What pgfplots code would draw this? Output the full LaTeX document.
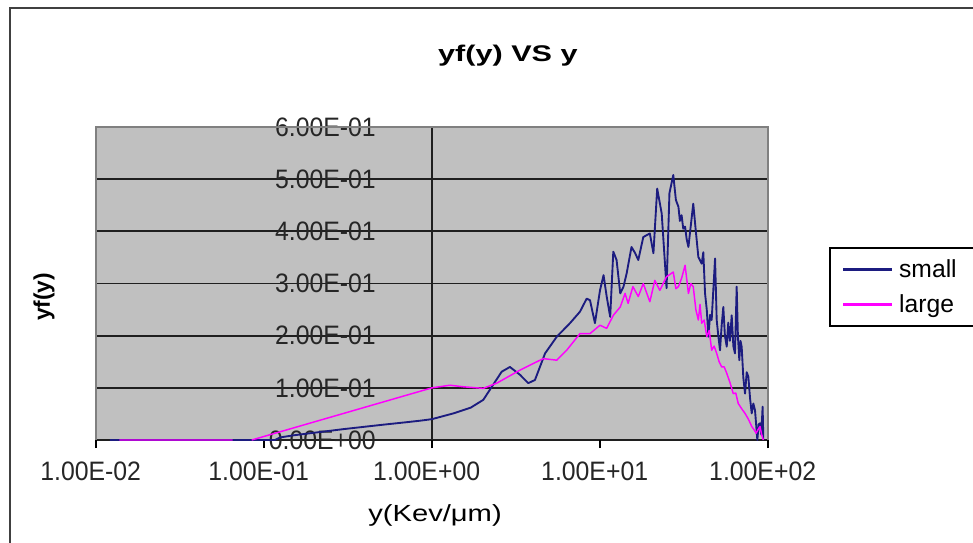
\documentclass[border=0pt]{standalone}
\usepackage{fontspec}
\setmainfont{Liberation Sans}
\newfontfamily\tickfont[FakeStretch=0.93]{Liberation Sans}
\newfontfamily\titlefont[FakeStretch=1.35]{Liberation Sans}
\newfontfamily\xlabfont[FakeStretch=1.25]{Liberation Sans}
\usepackage{pgfplots}
\pgfplotsset{compat=1.18}
\definecolor{plotgray}{HTML}{C0C0C0}
\definecolor{boxgray}{HTML}{808080}
\definecolor{navyline}{HTML}{1C1C80}
\definecolor{magline}{HTML}{FF00FF}
\begin{document}
\begin{tikzpicture}
\useasboundingbox (-72pt,-76.5pt) rectangle (657.75pt,330pt);
\draw[line width=1.5pt, black!75] (-64.5pt,-90pt) -- (-64.5pt,324pt) -- (700pt,324pt);
\begin{axis}[
  at={(0pt,0pt)}, anchor=south west,
  scale only axis, width=504pt, height=234.75pt,
  xmode=log, log basis x=10,
  xmin=0.01, xmax=100, ymin=0, ymax=0.6,
  unbounded coords=jump,
  xtick={0.01,0.1,1,10,100},
  xticklabels={1.00E-02,1.00E-01,1.00E+00,1.00E+01,1.00E+02},
  ytick={0,0.1,0.2,0.3,0.4,0.5,0.6},
  yticklabels={0.00E+00,1.00E-01,2.00E-01,3.00E-01,4.00E-01,5.00E-01,6.00E-01},
  xminorticks=false, yminorticks=false,
  xtick pos=bottom, ytick pos=left,
  tick align=outside,
  major tick length=6pt,
  xtick style={black, line width=1.2pt},
  ytick style={draw=none},
  ymajorgrids,
  major grid style={black!88, line width=1.3pt},
  extra x ticks={1}, extra x tick labels={},
  extra x tick style={grid=major, major grid style={black!88, line width=1.3pt}},
  axis background/.style={fill=plotgray},
  axis line style={draw=none},
  ticklabel style={font=\tickfont\fontsize{20}{24}\selectfont, text=black!85},
  xticklabel style={inner sep=0pt, anchor=north, xshift=-4pt, yshift=-10pt},
  yticklabel style={inner sep=0pt, anchor=east, xshift=216pt},
  title={yf(y) VS y},
  title style={font=\titlefont\bfseries\fontsize{17}{20}\selectfont, at={(axis description cs:0.613,1.204)}, anchor=center},
  ylabel={yf(y)},
  ylabel style={font=\bfseries\fontsize{17}{20}\selectfont, at={(axis description cs:-0.0774,0.457)}, anchor=center, rotate=0},
  xlabel={y(Kev/μm)},
  xlabel style={font=\xlabfont\fontsize{17.5}{20}\selectfont, at={(axis description cs:0.5045,-0.24)}, anchor=center},
  legend style={at={(rel axis cs:1.0908,0.6166)}, anchor=north west, draw=black, line width=1.2pt, fill=white,
    font=\fontsize{18.5}{22}\selectfont, inner xsep=9pt, inner ysep=7pt, row sep=7pt, cells={anchor=west},
    nodes={inner xsep=4pt}},
  legend image code/.code={\draw[#1, line width=2pt] (0pt,0pt) -- (37pt,0pt);},
  after end axis/.code={
    \draw[boxgray, line width=1.5pt] (rel axis cs:0,0) -- (rel axis cs:0,1) -- (rel axis cs:1,1) -- (rel axis cs:1,0);
  },
]
\addplot[navyline, line width=1.4pt, line join=round] coordinates {
(0.0121,0) (0.074,0) (0.116,0) (0.125,0.005) (0.15,0.009) (0.2,0.014) (0.3,0.021) (0.5,0.029) (0.7,0.034) (0.85,0.037) (1,0.040) (1.34,0.051) (1.7,0.062) (2.02,0.077) (2.27,0.102) (2.60,0.131) (2.91,0.140) (3.34,0.125) (3.74,0.109) (4.10,0.115) (4.71,0.166) (5.53,0.198) (6.63,0.224) (7.60,0.246) (8.33,0.271) (8.72,0.268) (9.33,0.224) (10,0.287) (10.5,0.316) (10.96,0.275) (11.5,0.236) (12.0,0.361) (12.55,0.345) (13.2,0.281) (13.8,0.294) (14.4,0.319) (15.4,0.370) (16.2,0.358) (16.9,0.345) (18.1,0.389) (19.8,0.396) (20.8,0.358) (21.9,0.482) (23.3,0.434) (24.9,0.291) (25.9,0.473) (27.3,0.508) (28.3,0.46) (29.3,0.447) (29.9,0.42) (30.6,0.431) (31.3,0.405) (32.1,0.409) (32.8,0.385) (33.6,0.370) (34.3,0.396) (35.9,0.453) (37.2,0.40) (38.5,0.351) (40.3,0.338) (41.2,0.36) (42.2,0.281) (43.2,0.25) (44.2,0.198) (45.2,0.24) (46.2,0.230) (48.4,0.348) (49.5,0.230) (50.6,0.20) (51.8,0.172) (53.0,0.22) (54.2,0.255) (55.4,0.20) (56.8,0.179) (58.0,0.225) (59.3,0.19) (60.8,0.239) (62.2,0.18) (63.6,0.166) (65.1,0.294) (66.2,0.20) (67.5,0.153) (68.6,0.19) (69.7,0.179) (71.3,0.12) (73.0,0.089) (74.7,0.13) (76.4,0.121) (78.2,0.08) (80.0,0.051) (81.8,0.07) (83.7,0.057) (86.4,0) (88.0,0.03) (89.6,0.032) (91.2,0.01) (92.9,0.064) (93.8,0)
};
\addlegendentry{small}
\addplot[magline, line width=1.1pt, line join=round] coordinates {
(0.0138,0) (0.065,0) (0.075,nan) (0.0845,0) (1.0,0.100) (1.28,0.105) (1.54,0.102) (2.02,0.099) (2.43,0.109) (3.34,0.134) (4.59,0.156) (5.53,0.153) (6.33,0.172) (7.60,0.204) (8.72,0.204) (10,0.220) (10.96,0.214) (12.0,0.239) (13.2,0.255) (14.1,0.281) (14.7,0.262) (15.7,0.294) (16.9,0.275) (18.1,0.300) (19.8,0.265) (21.2,0.306) (22.7,0.287) (24.9,0.313) (27.3,0.322) (28.3,0.29) (29.3,0.294) (30.6,0.31) (32.1,0.335) (33.6,0.281) (34.7,0.30) (35.9,0.294) (37.2,0.25) (38.5,0.230) (39.4,0.26) (40.3,0.224) (41.7,0.23) (43.2,0.198) (44.7,0.21) (46.2,0.172) (47.8,0.18) (49.5,0.166) (51.2,0.15) (53.0,0.140) (54.9,0.14) (56.8,0.128) (59.4,0.11) (62.1,0.089) (64.3,0.09) (66.5,0.070) (69.7,0.06) (73,0.051) (76.4,0.04) (80,0.026) (82.5,0.02) (85,0.013) (87.3,0.02) (89.6,0.026) (91.7,0.01) (93.8,0)
};
\addlegendentry{large}
\end{axis}
\end{tikzpicture}
\end{document}
